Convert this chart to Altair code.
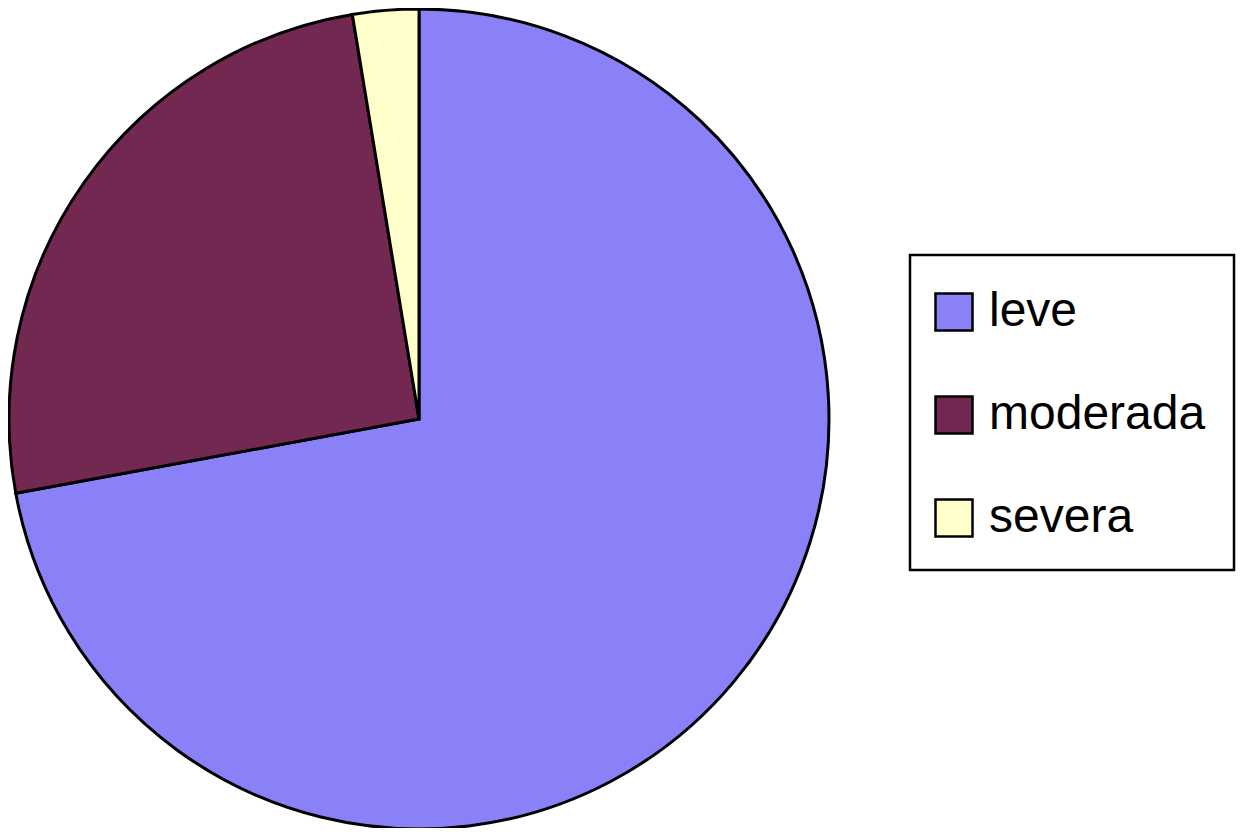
import altair as alt
import pandas as pd

categories = ["leve", "moderada", "severa"]
values = [72.1, 25.3, 2.6]
colors = ["#8A80F8", "#722850", "#FFFFCC"]

df = pd.DataFrame({"categoria": categories, "valor": values, "orden": list(range(len(categories)))})

chart = (
    alt.Chart(df)
    .mark_arc(outerRadius=410, stroke="black", strokeWidth=3, opacity=1)
    .encode(
        theta=alt.Theta("valor:Q", stack=True),
        order=alt.Order("orden:Q", sort="ascending"),
        x=alt.value(411),
        y=alt.value(411),
        color=alt.Color(
            "categoria:N",
            scale=alt.Scale(domain=categories, range=colors),
            legend=alt.Legend(
                title=" ",
                titleFontSize=1,
                titlePadding=4,
                orient="none",
                legendX=902,
                legendY=247,
                symbolType="square",
                symbolSize=1369,
                symbolStrokeColor="black",
                symbolStrokeWidth=2.5,
                symbolOpacity=1,
                symbolOffset=-8,
                labelFontSize=48,
                labelFont="Liberation Sans",
                labelColor="black",
                labelOffset=11,
                rowPadding=55,
                padding=28,
                strokeColor="black",
                fillColor="white",
                labelLimit=400,
            ),
        ),
    )
    .properties(width=1228, height=820, autosize=alt.AutoSizeParams(type="none"), padding=0)
    .configure_view(strokeWidth=0)
    .configure_legend(strokeWidth=2.5)
)

chart.save("out.html", embed_options={"renderer": "svg", "actions": False})
